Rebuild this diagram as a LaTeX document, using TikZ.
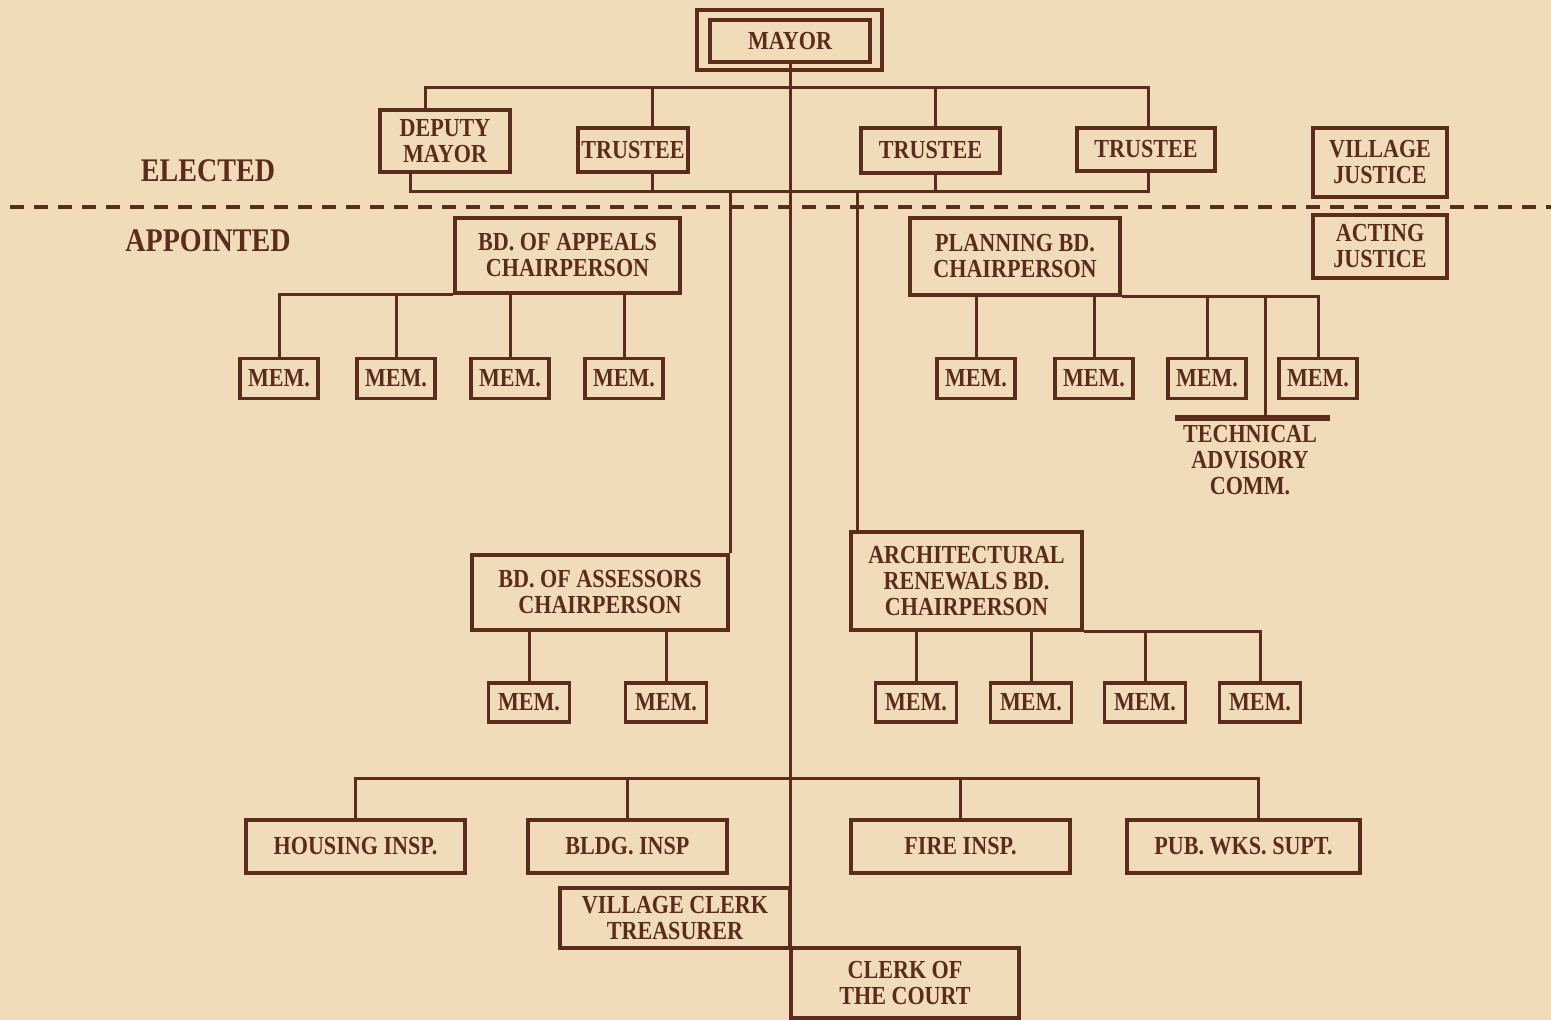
\documentclass[tikz,border=0pt]{standalone}
\usepackage{fontspec}
\setmainfont[FakeStretch=0.85]{Liberation Serif}
\definecolor{bgc}{HTML}{F1DCBA}
\definecolor{ink}{HTML}{5B2C1C}
\begin{document}
\begin{tikzpicture}[x=0.5pt,y=-0.5pt,
  bx/.style={draw=ink, line width=1.6pt, inner sep=0pt, align=center, text=ink,
    font=\fontsize{13}{13}\selectfont\bfseries},
  ln/.style={draw=ink, line width=1.5pt},
  lbl/.style={text=ink, inner sep=0pt, font=\fontsize{16.5}{17}\selectfont\bfseries},
  txt/.style={text=ink, inner sep=0pt, align=center, font=\fontsize{13}{13}\selectfont\bfseries}]
\fill[bgc] (0,0) rectangle (1551,1020);
\useasboundingbox (0,0) rectangle (1551,1020);

% ---------- elected ----------
\node[bx, minimum width=92.5pt, minimum height=30pt] (mayorout) at (789.5,40) {};
\node[bx, minimum width=80pt, minimum height=21pt] (mayor) at (790,41) {MAYOR};
\node[bx, minimum width=65pt, minimum height=31pt] (dm) at (445,141) {DEPUTY\\MAYOR};
\node[bx, minimum width=55pt, minimum height=22pt] (t1) at (633,150) {TRUSTEE};
\node[bx, minimum width=69.5pt, minimum height=22.5pt] (t2) at (930.5,150.5) {TRUSTEE};
\node[bx, minimum width=69pt, minimum height=21.5pt] (t3) at (1146,149.5) {TRUSTEE};
\node[bx, minimum width=67pt, minimum height=34.5pt] (vj) at (1380,162.5) {VILLAGE\\JUSTICE};
\node[bx, minimum width=67pt, minimum height=31.5pt] (aj) at (1380,246.5) {ACTING\\JUSTICE};

\node[lbl] (el) at (208,171) {ELECTED};
\node[lbl] (ap) at (208,241) {APPOINTED};

% ---------- appointed boards ----------
\node[bx, minimum width=112.5pt, minimum height=37.5pt] (ba) at (567.5,255.5) {BD. OF APPEALS\\CHAIRPERSON};
\node[bx, minimum width=105pt, minimum height=38.5pt] (pb) at (1015,256.5) {PLANNING BD.\\CHAIRPERSON};

\foreach \n/\x in {am1/279,am2/396,am3/510,am4/624,pm1/976,pm2/1094,pm3/1207,pm4/1318}
  \node[bx, minimum width=39pt, minimum height=20pt] (\n) at (\x,378.5) {MEM.};

\node[txt] (tac) at (1250,460) {TECHNICAL\\ADVISORY\\COMM.};

\node[bx, minimum width=128pt, minimum height=37.5pt] (bas) at (600,592.5) {BD. OF ASSESSORS\\CHAIRPERSON};
\node[bx, minimum width=115.5pt, minimum height=49pt] (arb) at (966.5,581) {ARCHITECTURAL\\RENEWALS BD.\\CHAIRPERSON};

\foreach \n/\x in {sm1/529,sm2/666,rm1/916,rm2/1031,rm3/1145,rm4/1260}
  \node[bx, minimum width=40.5pt, minimum height=19.5pt] (\n) at (\x,702.5) {MEM.};

% ---------- staff ----------
\node[bx, minimum width=109.5pt, minimum height=26.5pt] (hi) at (355.5,846.5) {HOUSING INSP.};
\node[bx, minimum width=99.5pt, minimum height=26.5pt] (bi) at (627.5,846.5) {BLDG. INSP};
\node[bx, minimum width=109.5pt, minimum height=26.5pt] (fi) at (960.5,846.5) {FIRE INSP.};
\node[bx, minimum width=116.5pt, minimum height=26.5pt] (pw) at (1243.5,846.5) {PUB. WKS. SUPT.};
\node[bx, minimum width=115pt, minimum height=30pt] (vc) at (675,918) {VILLAGE CLERK\\TREASURER};
\node[bx, minimum width=114pt, minimum height=35pt] (cc) at (905,983) {CLERK OF\\THE COURT};

% ---------- dashed divider ----------
\coordinate (dashL) at (10,207);
\coordinate (dashR) at (1551,207);
\draw[ink, line width=2pt, dash pattern=on 7pt off 5pt] (dashL) -- (dashR);

% ---------- main spine ----------
\coordinate (bot) at (790,1020);
\draw[ln] (mayor.south) -- (bot);

% top bus (y=88)
\coordinate (tbL) at (425,88);
\coordinate (tbR) at (1148,88);
\coordinate (tx1) at (652,88);
\coordinate (tx2) at (935,88);
\draw[ln] (dm.north -| tbL) -- (tbL) -- (tbR) -- (t3.north -| tbR);
\draw[ln] (t1.north -| tx1) -- (tx1);
\draw[ln] (t2.north -| tx2) -- (tx2);

% bottom bus (y=192)
\coordinate (bbL) at (410,192);
\coordinate (bbR) at (1148,192);
\coordinate (bx1) at (652,192);
\coordinate (bx2) at (935,192);
\coordinate (bx3) at (730,192);
\coordinate (bx4) at (857,192);
\draw[ln] (dm.south -| bbL) -- (bbL) -- (bbR) -- (t3.south -| bbR);
\draw[ln] (t1.south -| bx1) -- (bx1);
\draw[ln] (t2.south -| bx2) -- (bx2);
\draw[ln] (bx3) -- (bx3 |- bas.north);
\draw[ln] (bx4) -- (bx4 |- arb.north);

% appeals members
\draw[ln] (ba.south west) -| (am1.north);
\foreach \n in {am2,am3,am4} \draw[ln] (\n.north) -- (\n.north |- ba.south);

% planning members
\draw[ln] (pb.south east) -| (pm4.north);
\foreach \n in {pm1,pm2,pm3} \draw[ln] (\n.north) -- (\n.north |- pb.south);
\coordinate (tacT) at (1265,418);
\coordinate (tacL) at (1175,418);
\coordinate (tacR) at (1330,418);
\draw[ln] (tacT) -- (tacT |- pb.south);
\draw[ink, line width=2.6pt] (tacL) -- (tacR);

% assessors members
\foreach \n in {sm1,sm2} \draw[ln] (\n.north) -- (\n.north |- bas.south);

% architectural members
\draw[ln] (arb.south east) -| (rm4.north);
\foreach \n in {rm1,rm2,rm3} \draw[ln] (\n.north) -- (\n.north |- arb.south);

% staff bus (y=778)
\coordinate (lbR) at (1258,778);
\coordinate (lbL) at (355,778);
\draw[ln] (hi.north -| lbL) -- (lbL) -- (lbR) -- (pw.north -| lbR);
\draw[ln] (bi.north) -- (bi.north |- lbL);
\draw[ln] (fi.north) -- (fi.north |- lbL);
\end{tikzpicture}
\end{document}
